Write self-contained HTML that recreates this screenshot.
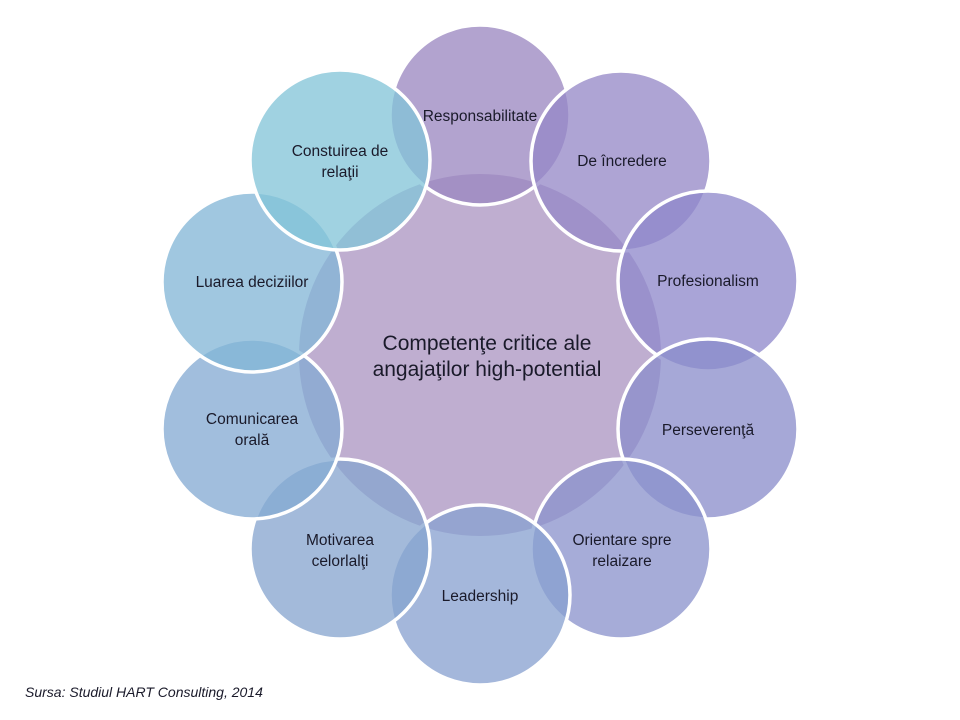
<!DOCTYPE html>
<html><head><meta charset="utf-8"><style>
html,body{margin:0;padding:0;background:#fff;width:960px;height:720px;overflow:hidden}
svg text{font-family:"Liberation Sans",sans-serif;fill:#1a1a2a}
</style></head><body>
<svg width="960" height="720" viewBox="0 0 960 720" xmlns="http://www.w3.org/2000/svg">
<circle cx="480" cy="355" r="181" fill="#bfaed0"/>
<g stroke="#fff" stroke-width="3.5" fill-opacity="0.76">
<circle cx="480" cy="115" r="90" fill="#9a86c0"/>
<circle cx="621" cy="161" r="90" fill="#9488c6"/>
<circle cx="708" cy="281" r="90" fill="#8e88ca"/>
<circle cx="708" cy="429" r="90" fill="#8a8ccb"/>
<circle cx="621" cy="549" r="90" fill="#8a92cc"/>
<circle cx="480" cy="595" r="90" fill="#88a0d0"/>
<circle cx="340" cy="549" r="90" fill="#86a4cf"/>
<circle cx="252" cy="429" r="90" fill="#84aad2"/>
<circle cx="252" cy="282" r="90" fill="#82b6d6"/>
<circle cx="340" cy="160" r="90" fill="#82c4d8"/>
</g>
<g font-size="15.5" text-anchor="middle">
<text x="480" y="121">Responsabilitate</text>
<text x="622" y="166">De încredere</text>
<text x="708" y="286">Profesionalism</text>
<text x="708" y="435">Perseverenţă</text>
<text x="622" y="545">Orientare spre</text>
<text x="622" y="566">relaizare</text>
<text x="480" y="601">Leadership</text>
<text x="340" y="545">Motivarea</text>
<text x="340" y="566">celorlalţi</text>
<text x="252" y="424">Comunicarea</text>
<text x="252" y="445">orală</text>
<text x="252" y="287">Luarea deciziilor</text>
<text x="340" y="156">Constuirea de</text>
<text x="340" y="177">relaţii</text>
</g>
<g font-size="21" text-anchor="middle">
<text x="487" y="350">Competenţe critice ale</text>
<text x="487" y="376">angajaţilor high-potential</text>
</g>
<text x="25" y="697" font-size="14" font-style="italic">Sursa: Studiul HART Consulting, 2014</text>
</svg>
</body></html>
